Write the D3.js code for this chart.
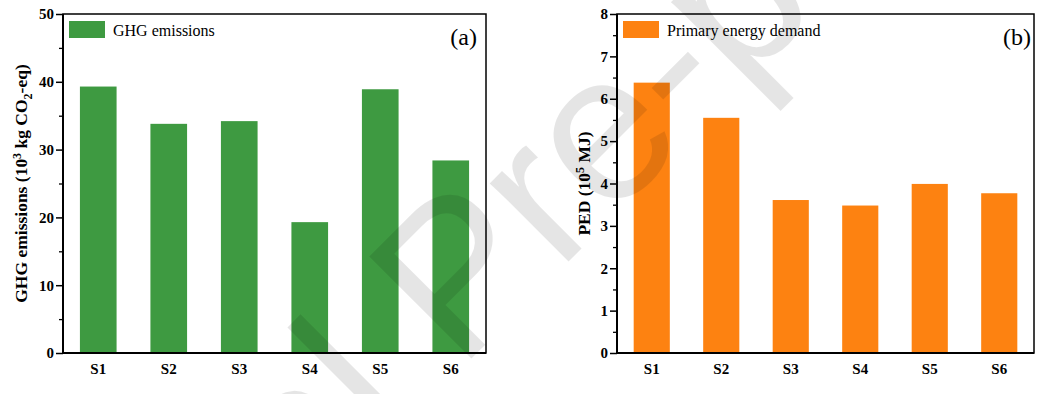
<!DOCTYPE html>
<html><head><meta charset="utf-8">
<script src="https://cdn.jsdelivr.net/npm/d3@7"></script>
<style>
body{margin:0;background:#fff;}
svg{display:block;}
text{font-family:"Liberation Serif","Times New Roman",serif;}
</style></head>
<body>
<svg id="chart" width="1039" height="394"></svg>
<script>
const categories = ["S1","S2","S3","S4","S5","S6"];
const ghgValues = [39.3, 33.8, 34.2, 19.3, 38.9, 28.4];
const pedValues = [6.38, 5.55, 3.61, 3.48, 3.99, 3.77];
const ghgTicks = [0,10,20,30,40,50];
const ghgMinor = [5,15,25,35,45];
const pedTicks = [0,1,2,3,4,5,6,7,8];
const pedMinor = [0.5,1.5,2.5,3.5,4.5,5.5,6.5,7.5];

const svg = d3.select("#chart");

function panel(opt){
  const g = svg.append("g");
  const x = d3.scaleBand().domain(categories).range([opt.x0, opt.x1]).paddingInner(0.48).paddingOuter(0.24);
  const y = d3.scaleLinear().domain(opt.domain).range([opt.y1, opt.y0]);
  g.selectAll("rect.bar").data(opt.values).enter().append("rect")
    .attr("x",(d,i)=>x(categories[i])).attr("width",x.bandwidth())
    .attr("y",d=>y(d)).attr("height",d=>y(0)-y(d))
    .attr("fill",opt.color);
  const ya = d3.axisLeft(y).tickValues(opt.ticks).tickSize(7).tickPadding(2).tickFormat(d3.format("d"));
  const yg = g.append("g").attr("transform",`translate(${opt.x0},0)`).call(ya);
  yg.select(".domain").remove();
  yg.selectAll(".tick line").attr("stroke","#000").attr("stroke-width",1.5);
  yg.selectAll(".tick text").attr("font-size",15).attr("font-weight","bold").attr("fill","#000")
    .style("font-family","'Liberation Serif',serif");
  const ym = d3.axisLeft(y).tickValues(opt.minor).tickSize(4).tickFormat("");
  const ymg = g.append("g").attr("transform",`translate(${opt.x0},0)`).call(ym);
  ymg.select(".domain").remove();
  ymg.selectAll(".tick line").attr("stroke","#000").attr("stroke-width",1.3);
  const xa = d3.axisBottom(x).tickSize(0).tickPadding(10);
  const xg = g.append("g").attr("transform",`translate(0,${opt.y1})`).call(xa);
  xg.select(".domain").remove();
  xg.selectAll(".tick text").attr("font-size",15).attr("font-weight","bold").attr("fill","#000")
    .style("font-family","'Liberation Serif',serif");
  g.append("rect").attr("x",opt.x0).attr("y",opt.y0).attr("width",opt.x1-opt.x0).attr("height",opt.y1-opt.y0)
    .attr("fill","none").attr("stroke","#000").attr("stroke-width",1.5);
  g.append("line").attr("x1",opt.x0).attr("x2",opt.x0).attr("y1",opt.y0).attr("y2",opt.y1).attr("stroke","#000").attr("stroke-width",2);
  g.append("line").attr("x1",opt.x0).attr("x2",opt.x1).attr("y1",opt.y1).attr("y2",opt.y1).attr("stroke","#000").attr("stroke-width",2);
  g.append("rect").attr("x",opt.x0+6).attr("y",21).attr("width",36).attr("height",17).attr("fill",opt.color);
  g.append("text").attr("x",opt.x0+50).attr("y",35.5).attr("font-size",16).text(opt.legend);
  g.append("text").attr("x",opt.letterX).attr("y",45).attr("font-size",24).attr("text-anchor","end").text(opt.letter);
  const t = g.append("text").attr("transform",`translate(${opt.titleX},${(opt.y0+opt.y1)/2}) rotate(-90)`)
    .attr("text-anchor","middle").attr("font-size",17.5).attr("font-weight","bold");
  opt.title(t);
  return g;
}

panel({x0:63,x1:486,y0:14,y1:353,domain:[0,50],values:ghgValues,ticks:ghgTicks,minor:ghgMinor,
  color:"#3e9a41",legend:"GHG emissions",letter:"(a)",letterX:477,titleX:27,
  title:t=>{
    t.append("tspan").text("GHG emissions (10");
    t.append("tspan").attr("dy",-6).attr("font-size",12).text("3");
    t.append("tspan").attr("dy",6).text(" kg CO");
    t.append("tspan").attr("dy",5).attr("font-size",12).text("2");
    t.append("tspan").attr("dy",-5).text("-eq)");
  }});

panel({x0:617,x1:1034,y0:14,y1:353,domain:[0,8],values:pedValues,ticks:pedTicks,minor:pedMinor,
  color:"#fd8211",legend:"Primary energy demand",letter:"(b)",letterX:1031,titleX:590,
  title:t=>{
    t.append("tspan").text("PED (10");
    t.append("tspan").attr("dy",-6).attr("font-size",12).text("5");
    t.append("tspan").attr("dy",6).text(" MJ)");
  }});

// watermark (clipped to the picture)
svg.append("clipPath").attr("id","wmclip").append("rect").attr("width",1039).attr("height",394);
svg.append("g").attr("clip-path","url(#wmclip)").append("text")
  .attr("transform","translate(-69,899) rotate(-45)")
  .style("font-family","'Liberation Sans',Arial,sans-serif").attr("font-size",210)
  .attr("fill","#000").attr("fill-opacity",0.1).text("Journal Pre-proof");
</script>
</body></html>
